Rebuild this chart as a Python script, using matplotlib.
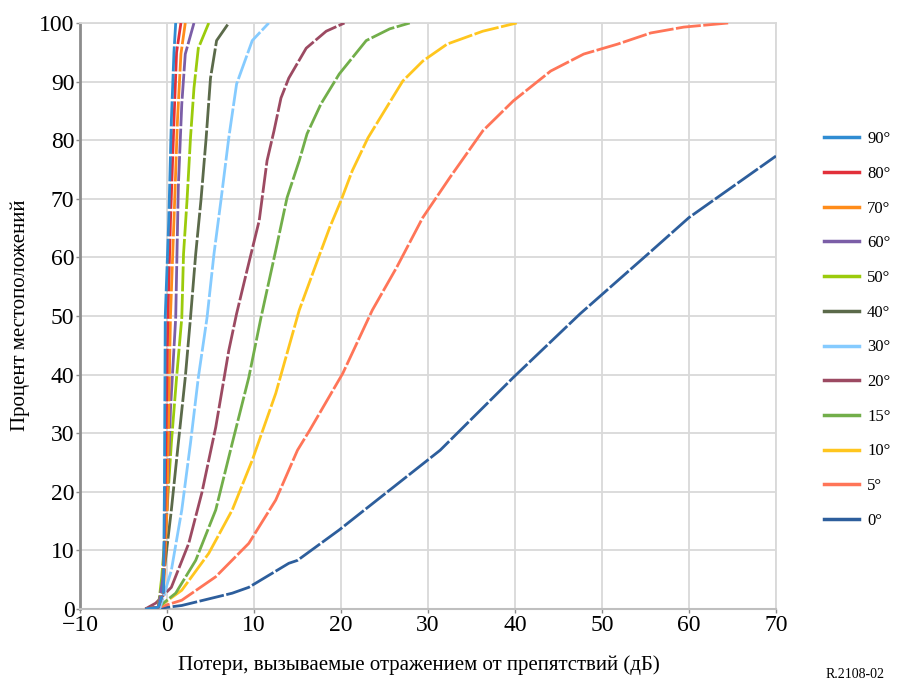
import matplotlib
matplotlib.use("Agg")
import matplotlib.pyplot as plt

plt.rcParams['font.family'] = ['Liberation Serif', 'DejaVu Serif']

labels = ["0°", "5°", "10°", "15°", "20°", "30°", "40°", "50°", "60°", "70°", "80°", "90°"]
colors = ["#2D5E9C", "#FF7558", "#FFC61E", "#72AE4A", "#9C4A62", "#85CBFF",
          "#5B6A4A", "#9BCB0C", "#7B5EA7", "#FF8C1A", "#E2303A", "#2F8CD2"]

x0 = [-2.5, -1.0, 1.7, 7.5, 9.4, 14.0, 15.0, 19.8, 25.6, 31.4, 39.8, 47.5, 55.3, 60.0, 70.0]
y0 = [0, 0.1, 0.6, 2.7, 3.7, 7.8, 8.3, 13.5, 20.3, 27.1, 39.5, 50.4, 60.6, 66.8, 77.3]

x5 = [-2.5, -1.3, 1.7, 5.6, 9.4, 12.5, 15.0, 16.4, 20.2, 23.6, 26.4, 29.4, 32.5, 36.3, 39.8,
      44.1, 47.9, 51.8, 55.6, 59.4, 64.5]
y5 = [0, 0.1, 1.5, 5.5, 11.2, 18.6, 27.1, 30.5, 40.2, 51.0, 58.3, 66.8, 73.6, 81.6, 86.7,
      91.8, 94.7, 96.4, 98.3, 99.3, 100]

x10 = [-2.5, -1.0, 1.7, 4.8, 7.5, 9.8, 12.5, 15.2, 17.3, 18.7, 20.0, 21.3, 23.1, 25.2, 27.1,
       29.4, 32.2, 36.3, 40.2]
y10 = [0, 0.3, 3.2, 9.5, 16.9, 25.4, 36.8, 51.0, 59.5, 65.1, 69.7, 74.8, 80.4, 85.5, 90.1,
       93.5, 96.4, 98.6, 100]

x15 = [-2.5, -1.0, 1.0, 3.3, 5.6, 7.5, 9.4, 10.8, 12.5, 13.8, 15.2, 16.1, 17.7, 19.8, 22.9, 25.6, 27.9]
y15 = [0, 0.3, 2.7, 8.3, 16.9, 28.3, 39.5, 49.7, 61.2, 70.2, 76.5, 81.1, 86.2, 91.3, 97.0, 99.0, 100]

x20 = [-2.5, -1.3, 0.5, 2.5, 4.0, 5.6, 7.1, 8.0, 9.2, 10.6, 11.5, 12.3, 13.1, 14.0, 16.0, 18.3, 20.4]
y20 = [0, 1.0, 3.7, 11.2, 19.8, 31.0, 44.1, 50.4, 57.8, 66.3, 76.5, 81.6, 87.2, 90.6, 95.7, 98.6, 100]

x30 = [-2.5, -0.8, 0.5, 1.7, 2.7, 3.6, 4.6, 5.4, 6.2, 7.1, 8.0, 9.8, 11.7]
y30 = [0, 0.2, 6.6, 16.9, 28.3, 39.5, 49.7, 60.6, 69.7, 80.4, 89.6, 97.0, 100]

x40 = [-2.5, -1.0, -0.4, 0.5, 1.3, 2.1, 2.7, 3.3, 3.9, 4.5, 5.0, 5.7, 7.1]
y40 = [0, 0.3, 5.5, 16.9, 28.3, 39.5, 49.7, 60.6, 69.7, 80.4, 90.6, 97.0, 100]

x50 = [-2.5, -1.0, -0.6, 0.0, 0.5, 1.1, 1.7, 1.9, 2.3, 2.7, 3.1, 3.6, 4.8]
y50 = [0, 0.3, 5.5, 16.9, 28.3, 39.5, 49.7, 60.6, 69.7, 80.4, 88.9, 95.7, 100]

x60 = [-2.5, -1.0, -0.5, 0.0, 0.4, 1.0, 1.3, 1.7, 2.1, 3.1]
y60 = [0, 0.3, 5.0, 16.9, 34.0, 49.7, 72.0, 86.2, 94.7, 100]

x70 = [-2.5, -1.0, -0.4, 0.0, 0.4, 0.8, 1.2, 1.6, 2.1]
y70 = [0, 0.3, 3.0, 16.9, 50.0, 66.3, 83.3, 94.7, 100]

x80 = [-2.5, -1.0, -0.4, -0.2, 0.1, 0.4, 0.8, 1.1, 1.6]
y80 = [0, 0.3, 3.0, 20.0, 50.0, 66.3, 83.3, 95.0, 100]

x90 = [-2.5, -1.0, -0.4, -0.3, -0.2, 0.2, 0.5, 0.8, 1.0]
y90 = [0, 0.3, 3.0, 20.0, 50.0, 66.3, 83.3, 95.0, 100]

xs = [x0, x5, x10, x15, x20, x30, x40, x50, x60, x70, x80, x90]
ys = [y0, y5, y10, y15, y20, y30, y40, y50, y60, y70, y80, y90]

xticks = [-10, 0, 10, 20, 30, 40, 50, 60, 70]
yticks = [0, 10, 20, 30, 40, 50, 60, 70, 80, 90, 100]

fig = plt.figure(figsize=(8.99, 6.82), dpi=100)
ax = fig.add_axes([80 / 899, 1 - 609 / 682, (776 - 80) / 899, (609 - 23) / 682])

lines = []
for x, y, c, lab in zip(xs, ys, colors, labels):
    ln, = ax.plot(x, y, color=c, lw=2.0, linestyle=(0, (9, 0.9)), label=lab, zorder=3)
    lines.append(ln)

ax.set_xlim(-10, 70)
ax.set_ylim(0, 100)
ax.set_xticks(xticks)
ax.set_yticks(yticks)
ax.set_xticklabels([("\u2212" + str(-t)) if t < 0 else str(t) for t in xticks])
ax.grid(True, color="#D9D9D9", lw=1.3, zorder=0)
ax.set_axisbelow(True)

for s in ["top", "right"]:
    ax.spines[s].set_color("#D9D9D9")
    ax.spines[s].set_linewidth(1.3)
ax.spines["left"].set_color("#8C8C8C")
ax.spines["left"].set_linewidth(2.0)
ax.spines["bottom"].set_color("#BFBFBF")
ax.spines["bottom"].set_linewidth(1.5)
ax.tick_params(axis="both", labelsize=17, color="#8C8C8C", length=3, width=1, pad=1)

ax.set_xlabel("Потери, вызываемые отражением от препятствий (дБ)", fontsize=15)
ax.xaxis.set_label_coords((419 - 80) / 696, -(665 - 609) / 586, transform=ax.transAxes)
ax.xaxis.label.set_va("center")
ax.set_ylabel("Процент местоположений", fontsize=15)
ax.yaxis.set_label_coords(-(80 - 20) / 696, (609 - 315) / 586, transform=ax.transAxes)
ax.yaxis.label.set_va("center")

handles = lines[::-1]
leg_labels = labels[::-1]
leg = fig.legend(handles, leg_labels, loc="center left", bbox_to_anchor=(817 / 899, 1 - 330 / 682),
                 frameon=False, fontsize=12, handlelength=2.1, handletextpad=0.5,
                 labelspacing=1.12, borderaxespad=0.0)
for lh in leg.get_lines():
    lh.set_linestyle("-")
    lh.set_linewidth(2.5)

fig.text(855 / 899, 1 / 682, "R.2108-02", fontsize=10, ha="center", va="bottom")

fig.savefig("out.png", dpi=100)
